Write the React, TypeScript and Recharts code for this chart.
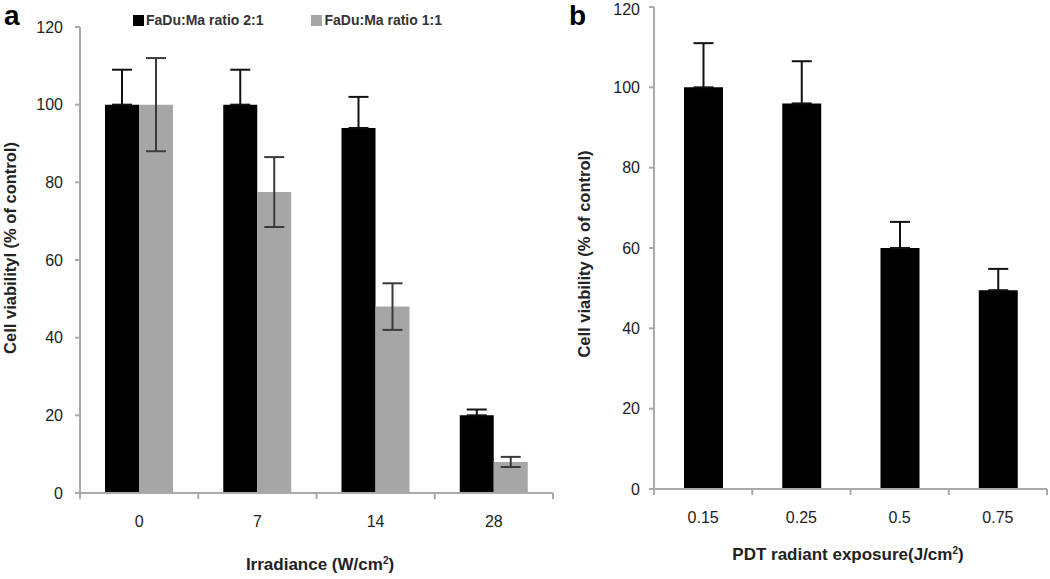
import React from "react";
import { BarChart, Bar, XAxis, YAxis, ErrorBar, Legend } from "recharts";

// panel a
const irradiance = ["0", "7", "14", "28"];
const ratio21 = [100, 100, 94, 20];
const ratio21Err = [9, 9, 8, 1.5];
const ratio11 = [100, 77.5, 48, 8];
const ratio11Err = [12, 9, 6, 1.3];

// panel b
const exposure = ["0.15", "0.25", "0.5", "0.75"];
const viability = [100, 96, 60, 49.5];
const viabilityErr = [11, 10.5, 6.5, 5.3];

const yTicks = [0, 20, 40, 60, 80, 100, 120];

// on the black bars only the upper whisker can be seen, so draw it as [0, +err]
const dataA = irradiance.map((name, i) => ({
  name,
  r21: ratio21[i],
  r21Err: [0, ratio21Err[i]],
  r11: ratio11[i],
  r11Err: ratio11Err[i],
}));

const dataB = exposure.map((name, i) => ({
  name,
  v: viability[i],
  vErr: [0, viabilityErr[i]],
}));

const FONT = "'Liberation Sans', Arial, sans-serif";
const AXIS = "#aaaaaa";
const ERR = "#3a3a3a";
const ERR_DARK = "#111111";

interface BandTickProps {
  x?: number;
  y?: number;
  index?: number;
  payload?: { value: string };
  band: number;
  count: number;
}

function BandTick({ x = 0, y = 0, index = 0, payload, band, count }: BandTickProps) {
  return (
    <g>
      <line x1={x - band / 2} x2={x - band / 2} y1={y} y2={y + 6} stroke={AXIS} strokeWidth={2} />
      {index === count - 1 && (
        <line x1={x + band / 2} x2={x + band / 2} y1={y} y2={y + 6} stroke={AXIS} strokeWidth={2} />
      )}
      <text x={x} y={y + 34} textAnchor="middle" fill="#222" fontSize={16} fontFamily={FONT}>
        {payload?.value}
      </text>
    </g>
  );
}

function LegendA() {
  const items = [
    { label: "FaDu:Ma ratio 2:1", color: "#000" },
    { label: "FaDu:Ma ratio 1:1", color: "#a6a6a6" },
  ];
  return (
    <div style={{ display: "flex", gap: 48, fontFamily: FONT }}>
      {items.map((it) => (
        <div key={it.label} style={{ display: "flex", alignItems: "center", gap: 2 }}>
          <span style={{ width: 11, height: 11, background: it.color, display: "inline-block" }} />
          <span style={{ fontSize: 14, fontWeight: "bold", color: "#333" }}>{it.label}</span>
        </div>
      ))}
    </div>
  );
}

const abs = (s: React.CSSProperties): React.CSSProperties => ({
  position: "absolute",
  fontFamily: FONT,
  fontWeight: "bold",
  color: "#222",
  whiteSpace: "nowrap",
  ...s,
});

export default function App() {
  const plotWA = 473;
  const plotWB = 393;
  return (
    <div style={{ position: "fixed", left: 0, top: 0, width: 1050, height: 579, background: "#fff" }}>
      <div style={{ position: "absolute", left: 0, top: 0 }}>
        <BarChart
          width={560}
          height={579}
          data={dataA}
          margin={{ top: 11, right: 7, bottom: 0, left: 0 }}
          barGap={0}
          barSize={34}
        >
          <XAxis
            dataKey="name"
            height={86}
            stroke={AXIS}
            strokeWidth={2}
            tickLine={false}
            tickSize={0}
            tickMargin={0}
            interval={0}
            tick={<BandTick band={plotWA / irradiance.length} count={irradiance.length} />}
          />
          <YAxis
            width={80}
            domain={[0, 120]}
            ticks={yTicks}
            stroke={AXIS}
            strokeWidth={2}
            tickSize={5}
            tickMargin={12}
            tick={{ fill: "#222", fontSize: 16, fontFamily: FONT }}
          />
          <Legend
            verticalAlign="top"
            align="left"
            content={<LegendA />}
            wrapperStyle={{ top: 12, left: 133, width: 420 }}
          />
          <Bar dataKey="r21" name="FaDu:Ma ratio 2:1" fill="#000" isAnimationActive={false}>
            <ErrorBar dataKey="r21Err" width={10} strokeWidth={2} stroke={ERR_DARK} />
          </Bar>
          <Bar dataKey="r11" name="FaDu:Ma ratio 1:1" fill="#a6a6a6" isAnimationActive={false}>
            <ErrorBar dataKey="r11Err" width={10} strokeWidth={2} stroke={ERR} />
          </Bar>
        </BarChart>
      </div>

      <div style={{ position: "absolute", left: 560, top: 0 }}>
        <BarChart
          width={490}
          height={579}
          data={dataB}
          margin={{ top: 7, right: 3, bottom: 0, left: 0 }}
          barSize={39}
        >
          <XAxis
            dataKey="name"
            height={90}
            stroke={AXIS}
            strokeWidth={2}
            tickLine={false}
            tickSize={0}
            tickMargin={0}
            interval={0}
            tick={<BandTick band={plotWB / exposure.length} count={exposure.length} />}
          />
          <YAxis
            width={94}
            domain={[0, 120]}
            ticks={yTicks}
            stroke={AXIS}
            strokeWidth={2}
            tickSize={5}
            tickMargin={9}
            tick={{ fill: "#222", fontSize: 16, fontFamily: FONT }}
          />
          <Bar dataKey="v" fill="#000" isAnimationActive={false}>
            <ErrorBar dataKey="vErr" width={10} strokeWidth={2} stroke={ERR_DARK} />
          </Bar>
        </BarChart>
      </div>

      <div style={abs({ left: 4, top: 0, fontSize: 28, color: "#000" })}>a</div>
      <div style={abs({ left: 569, top: 0, fontSize: 28, color: "#000" })}>b</div>

      <div
        style={abs({
          left: 10,
          top: 248,
          fontSize: 16.5,
          transform: "translate(-50%, -50%) rotate(-90deg)",
        })}
      >
        Cell viabilityl (% of control)
      </div>
      <div
        style={abs({
          left: 584,
          top: 254,
          fontSize: 16.5,
          transform: "translate(-50%, -50%) rotate(-90deg)",
        })}
      >
        Cell viability (% of control)
      </div>

      <div style={abs({ left: 320, top: 565, fontSize: 17, transform: "translate(-50%, -50%)" })}>
        Irradiance (W/cm<sup style={{ fontSize: 10 }}>2</sup>)
      </div>
      <div style={abs({ left: 848, top: 555, fontSize: 17, transform: "translate(-50%, -50%)" })}>
        PDT radiant exposure(J/cm<sup style={{ fontSize: 10 }}>2</sup>)
      </div>
    </div>
  );
}
